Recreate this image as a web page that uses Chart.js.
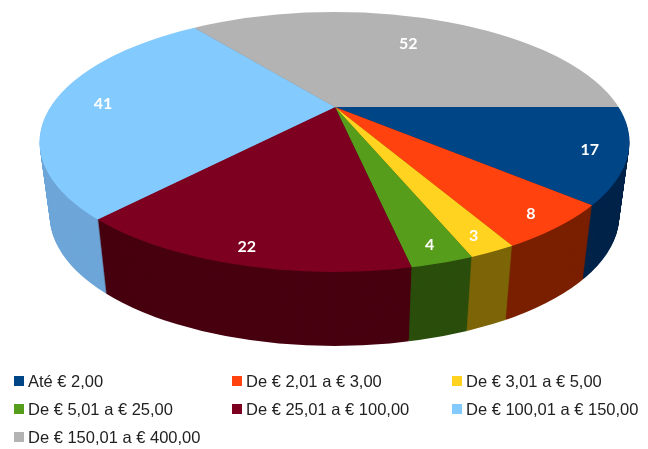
<!DOCTYPE html>
<html>
<head>
<meta charset="utf-8">
<script src="https://cdn.jsdelivr.net/npm/chart.js@4"></script>
<style>
    html, body { margin: 0; padding: 0; background: #fff; }
    #wrap { position: relative; width: 648px; height: 449px; overflow: hidden; }
    #chart { position: absolute; left: 0; top: 0; }
    #legend div { position: absolute; white-space: nowrap; font: 16.5px "Liberation Sans", Arial, sans-serif; color: #222; line-height: 18px; }
    #legend i { position: absolute; left: -14px; top: 4px; width: 10px; height: 10px; }
</style>
</head>
<body>
<div id="wrap">
    <canvas id="chart" width="648" height="449"></canvas>
    <div id="legend"></div>
</div>
<script>
const categories = ["Até € 2,00", "De € 2,01 a € 3,00", "De € 3,01 a € 5,00", "De € 5,01 a € 25,00", "De € 25,01 a € 100,00", "De € 100,01 a € 150,00", "De € 150,01 a € 400,00"];
const values = [17, 8, 3, 4, 22, 41, 52];
const topColors = ["#004586", "#ff420e", "#ffd320", "#579d1c", "#7e0021", "#83caff", "#b3b3b3"];
const wallColors = ["#00244a", "#7a2000", "#7d6608", "#2b4e0c", "#47000f", "#6ea6d8", "#808080"];

// the pie leans back: slices meet at the apex, the rim is an ellipse around another centre
const apexX = 335, apexY = 107, squash = 0.43;
const rimX = 334.5, rimY = 142, rimRx = 295, rimRy = 130;
const wallDepth = 74, wallShrink = 0.035;

function pieTransform(ctx, arc) {
    ctx.translate(apexX, apexY);
    ctx.scale(1, squash);
    ctx.translate(-arc.x, -arc.y);
}

function drawFace(ctx, arcs, colors) {
    ctx.beginPath();
    ctx.ellipse(rimX, rimY, rimRx, rimRy, 0, 0, Math.PI * 2);
    ctx.clip();
    arcs.forEach((arc, i) => {
        const el = Object.create(arc);
        el.options = Object.assign({}, arc.options, {backgroundColor: colors[i]});
        ctx.save();
        pieTransform(ctx, arc);
        el.draw(ctx);
        ctx.restore();
    });
}

// how far along the slice's middle ray the rim is
function rimDistance(angle) {
    const dx = Math.cos(angle), dy = Math.sin(angle) * squash;
    const ox = (apexX - rimX) / rimRx, oy = (apexY - rimY) / rimRy;
    const ax = dx / rimRx, ay = dy / rimRy;
    const a = ax * ax + ay * ay, b = 2 * (ox * ax + oy * ay), c = ox * ox + oy * oy - 1;
    return (-b + Math.sqrt(b * b - 4 * a * c)) / (2 * a);
}

const pie3d = {
    id: "pie3d",
    beforeDatasetsDraw(chart) {
        const ctx = chart.ctx;
        const arcs = chart.getDatasetMeta(0).data;

        for (let d = wallDepth; d >= 1; d--) {
            const s = 1 - wallShrink * d / wallDepth;
            ctx.save();
            ctx.translate(rimX, rimY + d);
            ctx.scale(s, 1);
            ctx.translate(-rimX, -rimY);
            drawFace(ctx, arcs, wallColors);
            ctx.restore();
        }

        ctx.save();
        drawFace(ctx, arcs, topColors);
        ctx.restore();

        ctx.save();
        ctx.fillStyle = "#fff";
        ctx.font = "bold 16px Lato, sans-serif";
        ctx.textAlign = "center";
        ctx.textBaseline = "middle";
        arcs.forEach((arc, i) => {
            const mid = (arc.startAngle + arc.endAngle) / 2;
            const r = rimDistance(mid) * Math.min(0.88, 0.83 + 0.11 * Math.sin(mid));
            ctx.fillText(values[i], apexX + Math.cos(mid) * r, apexY + Math.sin(mid) * r * squash + 1);
        });
        ctx.restore();
        return false;
    }
};

const chart = new Chart(document.getElementById("chart"), {
    type: "pie",
    data: {
        labels: categories,
        datasets: [{data: values, backgroundColor: topColors, borderWidth: 0}]
    },
    options: {
        responsive: false,
        animation: false,
        rotation: 90,
        radius: 420,
        plugins: {legend: {display: false}, tooltip: {enabled: false}}
    },
    plugins: [pie3d]
});

// legend sits in a three column grid, which the built in one can't do
const legend = document.getElementById("legend");
const colX = [28, 246, 466], rowY = [372, 400, 428];
categories.forEach((name, i) => {
    const item = document.createElement("div");
    item.style.left = colX[i % 3] + "px";
    item.style.top = rowY[Math.floor(i / 3)] + "px";
    item.textContent = name;
    const box = document.createElement("i");
    box.style.background = topColors[i];
    item.appendChild(box);
    legend.appendChild(item);
});
</script>
</body>
</html>
